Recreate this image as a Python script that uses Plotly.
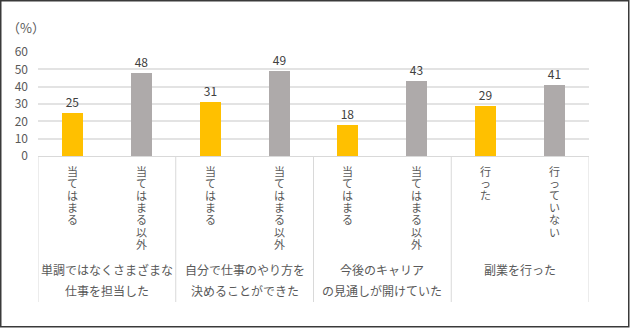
import plotly.graph_objects as go

# ---- data ----
bar_labels = ["当てはまる", "当てはまる以外", "当てはまる", "当てはまる以外",
              "当てはまる", "当てはまる以外", "行った", "行っていない"]
values = [25, 48, 31, 49, 18, 43, 29, 41]
group_lines = [["単調ではなくさまざまな", "仕事を担当した"],
               ["自分で仕事のやり方を", "決めることができた"],
               ["今後のキャリア", "の見通しが開けていた"],
               ["副業を行った"]]
y_ticks = [0, 10, 20, 30, 40, 50, 60]
unit_label = "（%）"

YELLOW = "#FFC000"
GRAY = "#AEAAAA"
TXT = "#595959"
FONT = "Noto Sans CJK JP"

W, H = 630, 328
L, R, T, B = 38, 41, 52, 172
PW = W - L - R
PH = H - T - B

def py(pix):  # pixel y -> paper y
    return (H - B - pix) / PH

def px(pix):
    return (pix - L) / PW

xs = list(range(len(values)))
colors = [YELLOW if i % 2 == 0 else GRAY for i in xs]

fig = go.Figure()
fig.add_trace(go.Bar(
    x=xs, y=values, width=0.305,
    marker=dict(color=colors, line=dict(width=0)),
    text=[str(v) for v in values], textposition="outside",
    textfont=dict(family=FONT, size=12, color="#404040"),
    cliponaxis=False, hoverinfo="skip",
))

annotations = []
# vertical category labels: upright characters stacked, one per annotation
for i, lab in enumerate(bar_labels):
    for j, ch in enumerate(lab):
        annotations.append(dict(
            x=i, xref="x", y=py(171 + 12.1 * j), yref="paper",
            text=ch, showarrow=False, xanchor="center", yanchor="middle",
            font=dict(family=FONT, size=11, color=TXT)))
# group labels
for g, lines in enumerate(group_lines):
    for k, line in enumerate(lines):
        annotations.append(dict(
            x=2 * g + 0.5, xref="x", y=py(269 + 21 * k), yref="paper",
            text=line, showarrow=False, xanchor="center", yanchor="middle",
            font=dict(family=FONT, size=12, color=TXT)))
annotations.append(dict(
    x=px(5), xref="paper", y=py(28), yref="paper", text=unit_label,
    showarrow=False, xanchor="left", yanchor="middle",
    font=dict(family=FONT, size=13, color=TXT)))

shapes = []
for g in range(len(group_lines) + 1):
    shapes.append(dict(type="line", xref="x", yref="paper",
                       x0=2 * g - 0.5, x1=2 * g - 0.5, y0=0, y1=py(302),
                       line=dict(color="#D9D9D9", width=1)))
shapes.append(dict(type="rect", xref="paper", yref="paper",
                   x0=px(0.75), x1=px(W - 1.25), y0=py(H - 1.25), y1=py(0.75),
                   line=dict(color="#3A3A3A", width=1.5), fillcolor="rgba(0,0,0,0)"))

fig.update_layout(
    width=W, height=H,
    margin=dict(l=L, r=R, t=T, b=B),
    paper_bgcolor="white", plot_bgcolor="white",
    showlegend=False, bargap=0,
    annotations=annotations, shapes=shapes,
    xaxis=dict(range=[-0.5, len(values) - 0.5], showticklabels=False,
               showgrid=False, zeroline=False, showline=True,
               linecolor="#D9D9D9", linewidth=1, ticks=""),
    yaxis=dict(range=[0, 60], tickvals=y_ticks, showgrid=True,
               gridcolor="#E3E3E3", gridwidth=1.5, zeroline=False,
               showline=False, ticks="", ticklabelstandoff=9,
               tickfont=dict(family=FONT, size=12, color=TXT)),
    font=dict(family=FONT),
)

fig.write_html("out.html")
